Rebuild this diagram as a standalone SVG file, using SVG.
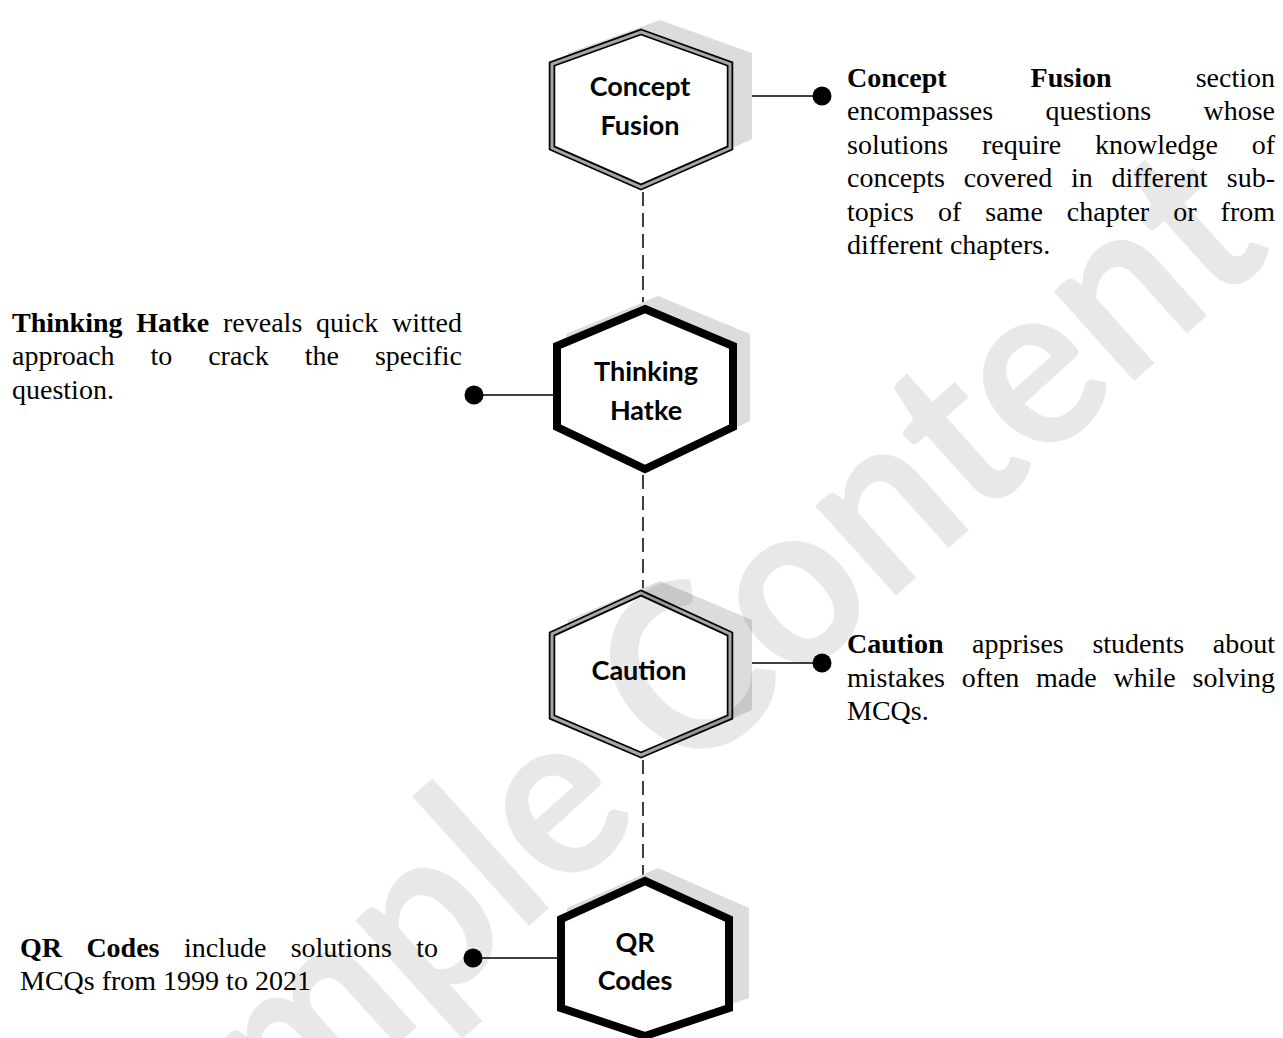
<svg xmlns="http://www.w3.org/2000/svg" width="1283" height="1038" viewBox="0 0 1283 1038">
<style>
.d{font-family:"Liberation Serif","Times New Roman",serif;font-size:28px;fill:#000}
.b{font-weight:bold}
.lbl{font-family:Lato,"Open Sans",sans-serif;font-weight:bold;font-size:27px;fill:#000;text-anchor:middle}
.shadow{fill:#dcdcdc;stroke:none}
.dblo{fill:#fff;stroke:#000;stroke-width:6.5;stroke-linejoin:miter}
.dbli{fill:none;stroke:#a6a6a6;stroke-width:3;stroke-linejoin:miter}
.thick{fill:#fff;stroke:#000;stroke-width:8;stroke-linejoin:miter}
.dash{stroke:#000;stroke-width:1.5;stroke-dasharray:14 7;fill:none}
.conn{stroke:#000;stroke-width:1.5;fill:none}
.dot{fill:#000}
</style>
<rect width="1283" height="1038" fill="#fff"/>

<g id="connectors">
  <line class="dash" x1="643" y1="192" x2="643" y2="304"/>
  <line class="dash" x1="643" y1="475" x2="643" y2="589"/>
  <line class="dash" x1="643" y1="760" x2="643" y2="876"/>
  <line class="conn" x1="752" y1="96" x2="822" y2="96"/>
  <circle class="dot" cx="822" cy="96" r="9.5"/>
  <line class="conn" x1="474" y1="395" x2="553" y2="395"/>
  <circle class="dot" cx="474" cy="395" r="9.5"/>
  <line class="conn" x1="752" y1="663" x2="822" y2="663"/>
  <circle class="dot" cx="822" cy="663" r="9.5"/>
  <line class="conn" x1="473" y1="958" x2="557" y2="958"/>
  <circle class="dot" cx="473" cy="958" r="9.5"/>
</g>

<g id="node-concept-fusion">
  <polygon class="shadow" points="660,20 752,53 752,139 660,181 568,139 568,53"/>
  <polygon class="dblo" points="641,32 730,64 730,148 641,187 552,148 552,64"/>
  <polygon class="dbli" points="641,32 730,64 730,148 641,187 552,148 552,64"/>
  <text class="lbl" x="640" y="96">Concept</text>
  <text class="lbl" x="640" y="135">Fusion</text>
</g>

<g id="node-thinking-hatke">
  <polygon class="shadow" points="658,296 750,334 750,421 658,464 566,421 566,334"/>
  <polygon class="thick" points="645,309 733,346 733,427 645,469 557,427 557,346"/>
  <text class="lbl" x="646" y="381">Thinking</text>
  <text class="lbl" x="646" y="420">Hatke</text>
</g>

<g id="node-caution">
  <polygon class="shadow" points="660,581 752,620 752,710 660,749 568,710 568,620"/>
  <polygon class="dblo" points="641,593 730,634 730,717 641,755 552,717 552,634"/>
  <polygon class="dbli" points="641,593 730,634 730,717 641,755 552,717 552,634"/>
  <text class="lbl" x="639" y="680">Caution</text>
</g>

<g id="node-qr-codes">
  <polygon class="shadow" points="658,868 749,908 749,998 658,1030 567,998 567,908"/>
  <polygon class="thick" points="645,881 729,919 729,1008 645,1036 561,1008 561,919"/>
  <text class="lbl" x="635" y="952">QR</text>
  <text class="lbl" x="635" y="990">Codes</text>
</g>

<g id="text-concept-fusion">
  <text class="d" y="86.5"><tspan class="b" x="847">Concept</tspan><tspan class="b" x="1030.6">Fusion</tspan></text>
  <text class="d" x="1275" y="86.5" text-anchor="end">section</text>
  <text class="d" y="120"><tspan x="847">encompasses</tspan><tspan x="1045.4">questions</tspan></text>
  <text class="d" x="1275" y="120" text-anchor="end">whose</text>
  <text class="d" y="153.5"><tspan x="847">solutions</tspan><tspan x="981.9">require</tspan><tspan x="1095">knowledge</tspan></text>
  <text class="d" x="1275" y="153.5" text-anchor="end">of</text>
  <text class="d" y="187"><tspan x="847">concepts</tspan><tspan x="963.7">covered</tspan><tspan x="1071.1">in</tspan><tspan x="1111.6">different</tspan></text>
  <text class="d" x="1275" y="187" text-anchor="end">sub-</text>
  <text class="d" y="220.5"><tspan x="847">topics</tspan><tspan x="937.9">of</tspan><tspan x="985.3">same</tspan><tspan x="1066.8">chapter</tspan><tspan x="1173.2">or</tspan></text>
  <text class="d" x="1275" y="220.5" text-anchor="end">from</text>
  <text class="d" x="847" y="254">different chapters.</text>
</g>

<g id="text-thinking-hatke">
  <text class="d" y="332"><tspan class="b" x="12">Thinking</tspan><tspan class="b" x="136.2">Hatke</tspan><tspan x="223">reveals</tspan><tspan x="316">quick</tspan></text>
  <text class="d" x="462" y="332" text-anchor="end">witted</text>
  <text class="d" y="365.3"><tspan x="12">approach</tspan><tspan x="150.5">to</tspan><tspan x="208.2">crack</tspan><tspan x="304.8">the</tspan></text>
  <text class="d" x="462" y="365.3" text-anchor="end">specific</text>
  <text class="d" x="12" y="398.6">question.</text>
</g>

<g id="text-caution">
  <text class="d" y="653"><tspan class="b" x="847">Caution</tspan><tspan x="972">apprises</tspan><tspan x="1092.4">students</tspan></text>
  <text class="d" x="1275" y="653" text-anchor="end">about</text>
  <text class="d" y="686.5"><tspan x="847">mistakes</tspan><tspan x="961.8">often</tspan><tspan x="1036.1">made</tspan><tspan x="1113.5">while</tspan></text>
  <text class="d" x="1275" y="686.5" text-anchor="end">solving</text>
  <text class="d" x="847" y="720">MCQs.</text>
</g>

<g id="text-qr-codes">
  <text class="d" y="957"><tspan class="b" x="20">QR</tspan><tspan class="b" x="86.4">Codes</tspan><tspan x="183.9">include</tspan><tspan x="290.7">solutions</tspan></text>
  <text class="d" x="438" y="957" text-anchor="end">to</text>
  <text class="d" x="20" y="990">MCQs from 1999 to 2021</text>
</g>

<g id="watermark">
  <text transform="translate(118,1296) rotate(-42)" x="0" y="0" font-family="Lato,'Open Sans',sans-serif" font-weight="bold" font-size="235" textLength="1558" lengthAdjust="spacingAndGlyphs" fill="#000" fill-opacity="0.09">Sample Content</text>
</g>
</svg>
